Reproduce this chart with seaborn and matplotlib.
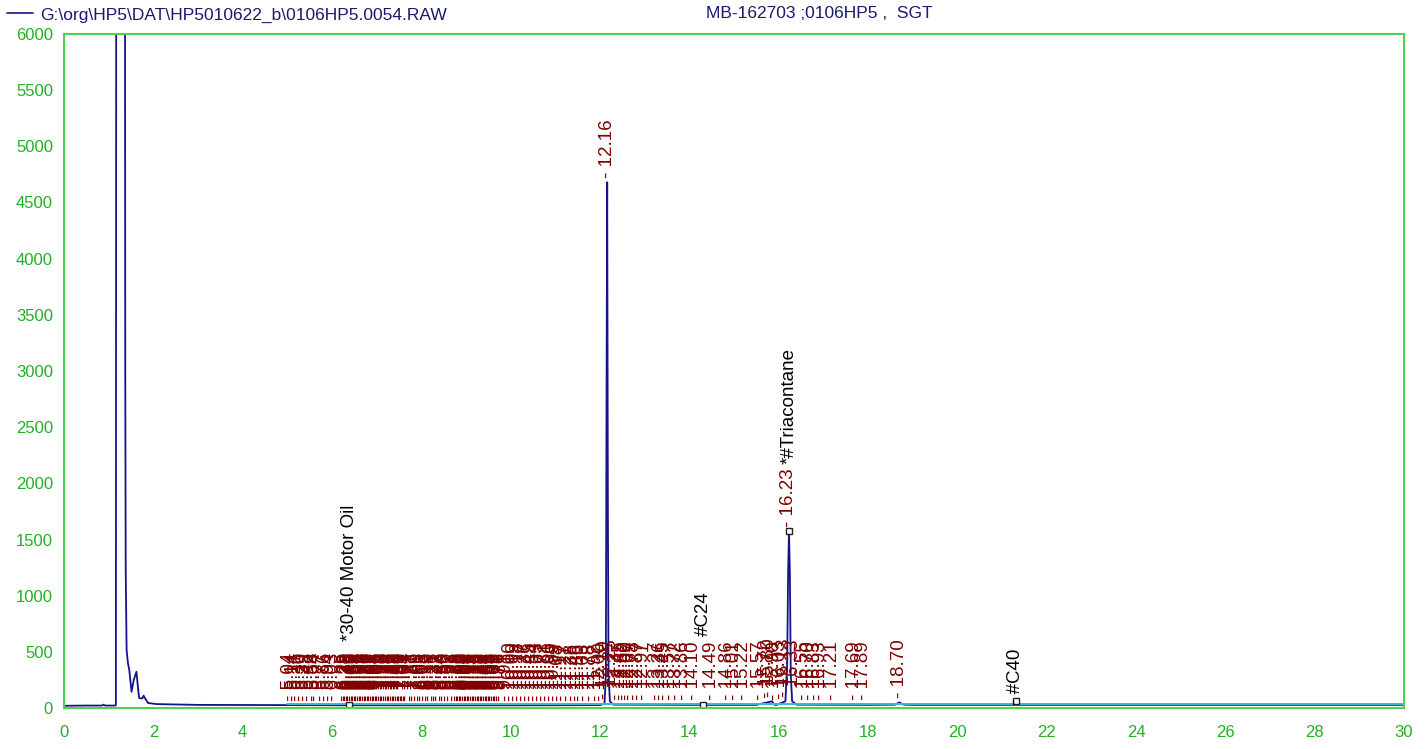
import numpy as np
import pandas as pd
import matplotlib
matplotlib.use('Agg')
import matplotlib.pyplot as plt
import seaborn as sns

# chromatogram trace (retention time, response)
trace_t = [0.0, 0.5, 0.85, 0.88, 0.92, 1.15, 1.16, 1.17, 1.36, 1.37, 1.38, 1.40, 1.43, 1.46,
           1.51, 1.56, 1.62, 1.65, 1.68, 1.75, 1.78, 1.81, 1.88, 2.07, 3.0, 5.0, 6.0, 8.0,
           10.0, 11.0, 12.0, 12.10, 12.13, 12.145, 12.16, 12.175, 12.19, 12.22, 12.3, 14.0,
           15.5, 15.85, 15.9, 15.95, 16.15, 16.19, 16.21, 16.23, 16.25, 16.27, 16.3, 16.4,
           18.0, 18.6, 18.7, 18.8, 19.0, 25.0, 30.0]
trace_y = [20, 22, 22, 30, 22, 22, 25, 9000, 9000, 3000, 1229, 516, 400, 338,
           145, 250, 323, 200, 89, 85, 110, 89, 45, 35, 28, 26, 25, 24,
           24, 25, 26, 40, 300, 2750, 4680, 1800, 300, 60, 30, 28,
           28, 60, 30, 28, 60, 400, 1200, 1560, 1200, 300, 60, 30,
           28, 30, 50, 30, 28, 28, 28]

# second (baseline) trace
base_t = [5.0, 30.0]
base_y = [35, 35]

# integrated peak retention times
peak_rt = [5.04, 5.14, 5.21, 5.30, 5.39, 5.48, 5.58, 5.64, 5.77, 5.86, 5.94, 6.03,
           6.25, 6.29, 6.32, 6.36, 6.40, 6.43, 6.47, 6.50, 6.54, 6.58, 6.61, 6.65, 6.69,
           6.72, 6.76, 6.80, 6.83, 6.87, 6.91, 6.94, 6.98, 7.02, 7.05, 7.09, 7.13, 7.16,
           7.20, 7.24, 7.28, 7.31, 7.35, 7.39, 7.42, 7.46, 7.50, 7.53, 7.57, 7.61, 7.64,
           7.67, 7.77, 7.83, 7.89, 7.95, 8.01, 8.08, 8.13, 8.19, 8.26, 8.31, 8.37, 8.44,
           8.50, 8.56, 8.62, 8.71, 8.79, 8.82, 8.86, 8.90, 8.93, 8.97, 9.00, 9.04, 9.08,
           9.11, 9.15, 9.18, 9.22, 9.26, 9.29, 9.33, 9.37, 9.40, 9.44, 9.48, 9.51, 9.55,
           9.58, 9.62, 9.66, 9.69, 9.73, 9.76, 9.91, 10.00, 10.09, 10.18, 10.27, 10.36,
           10.45, 10.54, 10.63, 10.72, 10.81, 10.90, 10.99, 11.08, 11.17, 11.27, 11.38,
           11.48, 11.55, 11.65, 11.78, 11.92, 12.00, 12.10, 12.16, 12.25, 12.37, 12.45,
           12.52, 12.60, 12.67, 12.78, 12.87, 12.97, 13.27, 13.36, 13.45, 13.57, 13.72,
           13.86, 14.10, 14.49, 14.86, 15.01, 15.22, 15.57, 15.72, 15.80, 15.90, 16.03,
           16.13, 16.23, 16.33, 16.55, 16.70, 16.83, 16.93, 17.21, 17.69, 17.89, 18.70]

# named compounds: (rt, label y, name)
named_rt = [6.38, 14.31, 16.23, 21.31]
named_y = [600, 640, 2175, 30]
named_txt = ['*30-40 Motor Oil', '#C24', '*#Triacontane', '- #C40']
marker_rt = [6.38, 14.31, 16.23, 21.31]
marker_y = [30, 30, 1575, 60]

navy = '#14148a'
teal = '#3cb8c8'
red = '#800000'
green_line = '#4cd44c'
green_txt = '#22b022'

sns.set_style('white')
plt.rcParams['font.family'] = ['Liberation Sans', 'DejaVu Sans']

fig = plt.figure(figsize=(14.27, 7.49), dpi=100)
ax = fig.add_axes([0.0449, 0.0547, 0.939, 0.9])

df = pd.DataFrame({'t': trace_t, 'y': trace_y})
sns.lineplot(data=df, x='t', y='y', ax=ax, color=navy, lw=1.3, estimator=None, sort=False,
             label='G:\\org\\HP5\\DAT\\HP5010622_b\\0106HP5.0054.RAW')
sns.lineplot(x=base_t, y=base_y, ax=ax, color=teal, lw=1.4, estimator=None)

# peak labels
lab_y = np.interp(peak_rt, trace_t, trace_y)
for t, h in zip(peak_rt, lab_y):
    off = 55 if abs(t - 16.23) < 0.005 else 40
    ax.text(t, h + off, f'- {t:.2f}', rotation=90, ha='center', va='bottom',
            color=red, fontsize=13.5)

for t, h, s in zip(named_rt, named_y, named_txt):
    ax.text(t, h, s, rotation=90, ha='center', va='bottom', color='black', fontsize=13.5)

ax.plot(marker_rt, marker_y, ls='none', marker='s', ms=5, mfc='white', mec='#222222', mew=1)

ax.set_xlim(0, 30)
ax.set_ylim(0, 6000)
ax.set_xticks(np.arange(0, 31, 2))
ax.set_xticks(np.arange(0, 31, 1), minor=True)
ax.set_yticks(np.arange(0, 6001, 500))
ax.set_yticks(np.arange(0, 6001, 250), minor=True)
ax.tick_params(axis='both', which='both', colors=green_line, labelcolor=green_txt,
               labelsize=12, direction='out', width=1.3)
ax.tick_params(axis='x', which='major', length=9)
ax.tick_params(axis='x', which='minor', length=5)
ax.tick_params(axis='y', which='both', length=5, pad=3)
ax.set_xlabel('')
ax.set_ylabel('')
for sp in ax.spines.values():
    sp.set_color(green_line)
    sp.set_linewidth(1.5)

leg = ax.legend(loc='lower left', bbox_to_anchor=(-0.049, 1.004), frameon=False,
                handlelength=1.5, handletextpad=0.4, borderaxespad=0.1, fontsize=12.5)
for txt in leg.get_texts():
    txt.set_color('#1a1a6e')
leg.legend_handles[0].set_linewidth(1.2)

fig.text(0.4947, 0.9825, 'MB-162703 ;0106HP5 ,  SGT', color='#1a1a6e', fontsize=12.5,
         va='center', ha='left')

fig.savefig('out.png', dpi=100)
